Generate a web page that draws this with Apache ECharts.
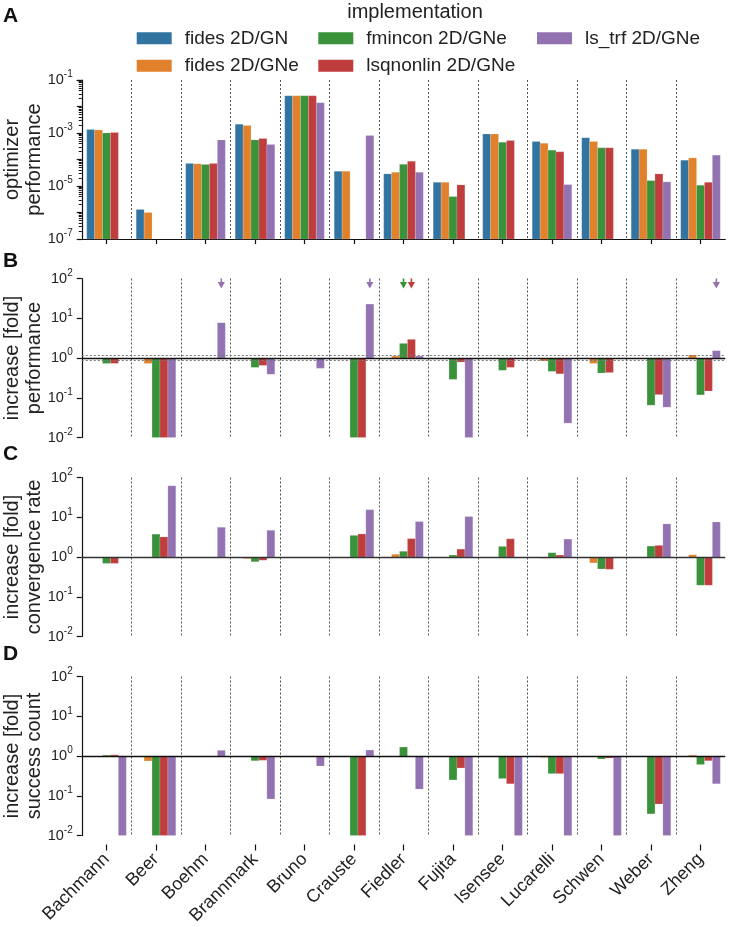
<!DOCTYPE html>
<html><head><meta charset="utf-8">
<script src="https://cdn.jsdelivr.net/npm/echarts@6/dist/echarts.min.js"></script>
<style>html,body{margin:0;padding:0;background:#fff}#c{width:729px;height:927px}</style>
</head><body><div id="c"></div>
<script>
const categories = ['Bachmann','Beer','Boehm','Brannmark','Bruno','Crauste','Fiedler','Fujita','Isensee','Lucarelli','Schwen','Weber','Zheng'];
const seriesNames = ['fides 2D/GN','fides 2D/GNe','fmincon 2D/GNe','lsqnonlin 2D/GNe','ls_trf 2D/GNe'];
const colors = ['#3274a1','#e1812c','#3a923a','#c03d3e','#9372b2'];

// Panel A: optimizer performance
const perfFidesGN   = [1.36e-3, 1.3e-6, 7.1e-5, 2.16e-3, 2.55e-2, 3.6e-5, 2.86e-5, 1.38e-5, 9.1e-4, 4.8e-4, 6.6e-4, 2.45e-4, 9.4e-5];
const perfFidesGNe  = [1.29e-3, 1.0e-6, 6.9e-5, 1.93e-3, 2.55e-2, 3.6e-5, 3.3e-5, 1.38e-5, 9.1e-4, 4.1e-4, 4.8e-4, 2.45e-4, 1.15e-4];
const perfFmincon   = [1.0e-3, null, 6.5e-5, 5.5e-4, 2.55e-2, null, 6.6e-5, 4.0e-6, 4.5e-4, 2.25e-4, 2.75e-4, 1.6e-5, 1.07e-5];
const perfLsqnonlin = [1.05e-3, null, 7.1e-5, 6.2e-4, 2.55e-2, null, 8.6e-5, 1.1e-5, 5.2e-4, 1.94e-4, 2.8e-4, 2.86e-5, 1.38e-5];
const perfLsTrf     = [null, null, 5.5e-4, 3.7e-4, 1.39e-2, 8.1e-4, 3.3e-5, null, null, 1.13e-5, null, 1.43e-5, 1.46e-4];

// Panel B: increase [fold] performance
const perfFoldFidesGN   = [1,1,1,1,1,1,1,1,1,1,1,1,1];
const perfFoldFidesGNe  = [0.97, 0.73, 0.97, 0.94, 1, 1, 1.12, 1, 1, 0.84, 0.73, 1, 1.19];
const perfFoldFmincon   = [0.73, 0.01, 0.95, 0.58, 1, 0.01, 2.33, 0.29, 0.49, 0.46, 0.42, 0.065, 0.118];
const perfFoldLsqnonlin = [0.73, 0.01, 1, 0.65, 1, 0.01, 2.94, 0.79, 0.58, 0.40, 0.43, 0.12, 0.148];
const perfFoldLsTrf     = [1, 0.01, 7.7, 0.39, 0.55, 22.7, 1.12, 0.01, 1, 0.023, 1, 0.058, 1.53];
const arrowMarks = [['Boehm', 4], ['Crauste', 4], ['Fiedler', 2], ['Fiedler', 3], ['Zheng', 4]];

// Panel C: increase [fold] convergence rate
const convFidesGN   = [1,1,1,1,1,1,1,1,1,1,1,1,1];
const convFidesGNe  = [1, 1, 1, 0.91, 1, 1, 1.17, 1, 1, 0.93, 0.71, 1, 1.14];
const convFmincon   = [0.69, 3.76, 1, 0.76, 1, 3.5, 1.39, 1.12, 1.85, 1.28, 0.5, 1.88, 0.195];
const convLsqnonlin = [0.69, 3.2, 1, 0.83, 1, 3.8, 2.9, 1.58, 2.87, 1.12, 0.49, 1.96, 0.195];
const convLsTrf     = [1, 62, 5.6, 4.7, 1, 15.5, 7.8, 10.4, 1, 2.82, 1, 6.8, 7.6];

// Panel D: increase [fold] success count
const succFidesGN   = [1,1,1,1,1,1,1,1,1,1,1,1,1];
const succFidesGNe  = [1, 0.75, 0.94, 1, 1, 1, 1, 1, 1, 0.92, 1, 1, 1.05];
const succFmincon   = [1.05, 0.01, 1, 0.76, 1, 0.01, 1.68, 0.25, 0.27, 0.36, 0.84, 0.035, 0.61];
const succLsqnonlin = [1.07, 0.01, 1, 0.78, 1, 0.01, 1, 0.5, 0.2, 0.36, 0.89, 0.062, 0.76];
const succLsTrf     = [0.01, 0.01, 1.39, 0.083, 0.56, 1.41, 0.147, 0.01, 0.01, 0.01, 0.01, 0.01, 0.2];

const FONT = 'Liberation Sans';
const panels = [
  {letter:'A', title:'optimizer\nperformance', min:1e-7, max:1e-1, split:6, base:1e-7, oddOnly:true,
   data:[perfFidesGN, perfFidesGNe, perfFmincon, perfLsqnonlin, perfLsTrf]},
  {letter:'B', title:'increase [fold]\nperformance', min:1e-2, max:1e2, split:4, base:1, band:true,
   data:[perfFoldFidesGN, perfFoldFidesGNe, perfFoldFmincon, perfFoldLsqnonlin, perfFoldLsTrf]},
  {letter:'C', title:'increase [fold]\nconvergence rate', min:1e-2, max:1e2, split:4, base:1,
   data:[convFidesGN, convFidesGNe, convFmincon, convLsqnonlin, convLsTrf]},
  {letter:'D', title:'increase [fold]\nsuccess count', min:1e-2, max:1e2, split:4, base:1,
   data:[succFidesGN, succFidesGNe, succFmincon, succLsqnonlin, succLsTrf]}
];
const gridTops = [80, 278.5, 477.5, 676.5];
const letterTops = [6, 251, 444, 644];
const GRID_LEFT = 81.75, GRID_W = 643.5, GRID_H = 159;
const ARROW_LEVEL = 75;

function barRender(si, base) {
  return function (params, api) {
    const v = api.value(1);
    if (v == null || isNaN(v)) return;
    const cat = api.value(0);
    const band = api.size([1, 0])[0];
    const w = band * 0.8 / 5;
    const top = api.coord([cat, v]);
    const bot = api.coord([cat, base]);
    const x = top[0] - band * 0.4 + si * w;
    const y0 = Math.min(top[1], bot[1]);
    const h = Math.abs(top[1] - bot[1]);
    if (h < 0.3) return;
    return {type: 'rect', shape: {x: x, y: y0, width: w, height: h},
            style: {fill: colors[si], stroke: 'rgba(255,255,255,0.25)', lineWidth: 0.6}};
  };
}
function arrowRender(params, api) {
  const cat = api.value(0), si = api.value(2);
  const band = api.size([1, 0])[0];
  const w = band * 0.8 / 5;
  const p = api.coord([cat, api.value(1)]);
  const cx = p[0] - band * 0.4 + (si + 0.5) * w, cy = p[1];
  const c = colors[si];
  return {type: 'group', children: [
    {type: 'rect', shape: {x: cx - 0.8, y: cy - 5, width: 1.6, height: 4}, style: {fill: c}},
    {type: 'polygon', shape: {points: [[cx - 3.6, cy - 1.5], [cx + 3.6, cy - 1.5], [cx, cy + 5]]}, style: {fill: c}}
  ]};
}
function supLabel(oddOnly) {
  return function (v) {
    const e = Math.round(Math.log10(v));
    if (oddOnly && e % 2 === 0) return '';
    return '{b|10}{s|' + e + '}';
  };
}

const grid = [], xAxis = [], yAxis = [], series = [], graphic = [];
panels.forEach((pn, pi) => {
  const last = pi === 3;
  grid.push({left: GRID_LEFT, top: gridTops[pi], width: GRID_W, height: GRID_H, containLabel: false, outerBoundsMode: 'none'});
  xAxis.push({
    type: 'category', gridIndex: pi, data: categories, boundaryGap: true,
    offset: last ? 9 : 0,
    axisLine: {show: pi === 0, lineStyle: {color: '#111', width: 1.2}},
    axisTick: {show: pi === 0 || last, alignWithLabel: true, length: last ? 6 : 5, lineStyle: {color: '#111', width: 1.2}},
    axisLabel: {show: last, interval: 0, rotate: 45, fontSize: 18, fontFamily: FONT, color: '#222', margin: 12,
      overflow: 'none', width: 300, hideOverlap: false},
    splitLine: {show: true, showMinLine: false, showMaxLine: false, lineStyle: {color: '#555', type: [2, 2], width: 1}}
  });
  yAxis.push({
    type: 'log', logBase: 10, gridIndex: pi, min: pn.min, max: pn.max, splitNumber: pn.split,
    name: pn.title, nameLocation: 'middle', nameGap: 36, nameMoveOverlap: false,
    nameTextStyle: {fontSize: 20, lineHeight: 22, fontFamily: FONT, color: '#222'},
    axisLine: {show: true, lineStyle: {color: '#111', width: 1.2}},
    axisTick: {show: true, length: 5, lineStyle: {color: '#111', width: 1.2}},
    minorTick: {show: pi === 0, splitNumber: 9, length: 3, lineStyle: {color: '#111', width: 1}},
    splitLine: {show: false},
    axisLabel: {
      formatter: supLabel(pn.oddOnly), margin: 9, color: '#222',
      rich: {
        b: {fontSize: 14.5, lineHeight: 14, fontFamily: FONT, color: '#222', verticalAlign: 'middle'},
        s: {fontSize: 10, lineHeight: 10, fontFamily: FONT, color: '#222', padding: [0, 0, 11, 0], verticalAlign: 'middle'}
      }
    }
  });
  pn.data.forEach((arr, si) => {
    series.push({
      type: 'custom', name: seriesNames[si], xAxisIndex: pi, yAxisIndex: pi,
      itemStyle: {color: colors[si]},
      renderItem: barRender(si, pn.base), encode: {x: 0, y: 1}, clip: false,
      data: arr.map((v, ci) => [ci, v == null ? NaN : v])
    });
  });
  if (pi > 0) {
    const ml = [{yAxis: 1, lineStyle: {color: pi === 2 ? '#333' : '#111', width: 1.4, type: 'solid'}}];
    if (pn.band) {
      ml.push({yAxis: 1.165, lineStyle: {color: '#777', width: 1, type: [2, 2]}});
      ml.push({yAxis: 0.86, lineStyle: {color: '#777', width: 1, type: [2, 2]}});
    }
    series.push({type: 'line', xAxisIndex: pi, yAxisIndex: pi, data: [], z: 5, silent: true,
      markLine: {symbol: 'none', silent: true, animation: false, label: {show: false}, data: ml}});
  }
  if (pn.letter === 'B') {
    series.push({type: 'custom', name: 'arrows', xAxisIndex: pi, yAxisIndex: pi, renderItem: arrowRender,
      encode: {x: 0, y: 1}, clip: false,
      data: arrowMarks.map(m => [categories.indexOf(m[0]), ARROW_LEVEL, m[1]])});
  }
  graphic.push({type: 'text', left: 3, top: letterTops[pi],
    style: {text: pn.letter, font: 'bold 21px "' + FONT + '"', fill: '#111'}});
});
graphic.push({type: 'text', x: 415, y: 12,
  style: {text: 'implementation', font: '20px "' + FONT + '"', fill: '#222', align: 'center', verticalAlign: 'middle'}});

const legendBase = {orient: 'vertical', padding: 0, itemGap: 8.5, itemWidth: 35, itemHeight: 12, icon: 'rect',
  textStyle: {fontSize: 19, fontFamily: FONT, color: '#222', padding: [0, 0, 0, 8]}, top: 28.8, selectedMode: false};
const legend = [
  Object.assign({}, legendBase, {left: 136.7, data: [seriesNames[0], seriesNames[1]]}),
  Object.assign({}, legendBase, {left: 318.3, data: [seriesNames[2], seriesNames[3]]}),
  Object.assign({}, legendBase, {left: 537, data: [seriesNames[4]]})
];

const chart = echarts.init(document.getElementById('c'), null, {renderer: 'canvas'});
chart.setOption({animation: false, backgroundColor: '#fff', grid, xAxis, yAxis, series, legend, graphic,
  textStyle: {fontFamily: FONT}});
</script></body></html>
